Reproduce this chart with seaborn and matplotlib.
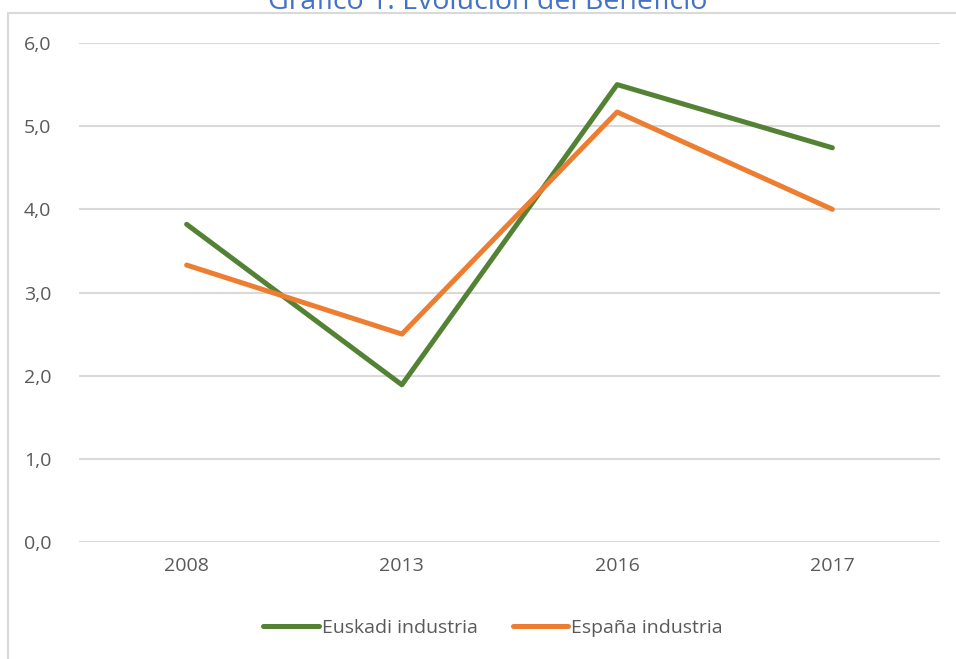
import matplotlib
matplotlib.use("Agg")
import matplotlib.pyplot as plt
import seaborn as sns
import pandas as pd

# datos
years = ["2008", "2013", "2016", "2017"]
euskadi = [3.82, 1.89, 5.50, 4.74]
espana = [3.33, 2.50, 5.17, 4.00]
series_names = ["Euskadi industria", "España industria"]
colors = ["#548235", "#ED7D31"]

df = pd.DataFrame({
    "año": years * 2,
    "valor": euskadi + espana,
    "serie": [series_names[0]] * 4 + [series_names[1]] * 4,
})

sns.set_style("white")
plt.rcParams["font.family"] = ["Open Sans", "DejaVu Sans"]

fig = plt.figure(figsize=(9.56, 6.59), dpi=100)
ax = fig.add_axes([79 / 956, 1 - 542 / 659, (940 - 79) / 956, (542 - 43) / 659])

sns.lineplot(data=df, x="año", y="valor", hue="serie", palette=colors,
             linewidth=3.6, sort=False, ax=ax, legend=False)

ax.set_xlim(-0.5, 3.5)
ax.set_ylim(0, 6)
ax.set_yticks(range(0, 7))
ax.set_yticklabels([f"{v},0" for v in range(0, 7)])
ax.yaxis.grid(True, color="#d9d9d9", linewidth=1.5)
ax.set_axisbelow(True)
for s in ax.spines.values():
    s.set_visible(False)
ax.tick_params(axis="both", length=0, labelsize=14, colors="#595959")
ax.tick_params(axis="y", pad=20)
ax.tick_params(axis="x", pad=11)
ax.set_xlabel("")
ax.set_ylabel("")

# marco del gráfico (solo bordes izquierdo y superior visibles)
x0, y0 = 8 / 956, 1 - 13 / 659
fig.add_artist(plt.Line2D([x0, x0], [0, y0], transform=fig.transFigure,
                          color="#d9d9d9", linewidth=1.5))
fig.add_artist(plt.Line2D([x0, 1], [y0, y0], transform=fig.transFigure,
                          color="#d9d9d9", linewidth=1.5))

# título (recortado arriba)
fig.text(488 / 956, 1 - 9 / 659, "Gráfico 1. Evolución del Beneficio",
         ha="center", va="baseline", fontsize=20.5, color="#4472C4")

handles = [plt.Line2D([], [], color=c, linewidth=3.6, solid_capstyle="round")
           for c in colors]
fig.legend(handles, series_names, loc="center", bbox_to_anchor=(493 / 956, 1 - 628 / 659),
           ncol=2, frameon=False, fontsize=14, labelcolor="#595959",
           handlelength=2.85, handletextpad=0.15, columnspacing=1.8)

fig.savefig("out.png", dpi=100)
